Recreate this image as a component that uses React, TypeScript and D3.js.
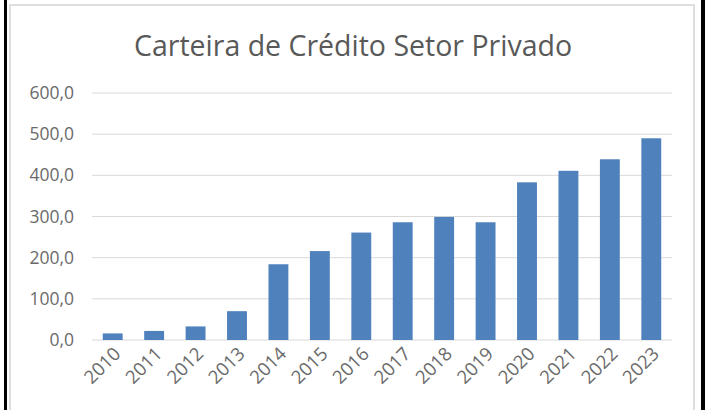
import { useEffect, useRef } from 'react';
import * as d3 from 'd3';

const title = 'Carteira de Crédito Setor Privado';
const years = ['2010', '2011', '2012', '2013', '2014', '2015', '2016', '2017', '2018', '2019', '2020', '2021', '2022', '2023'];
const carteira = [16, 22, 33, 70, 184, 216, 261, 286, 299, 286, 383, 411, 439, 490];
const yTicks = [0, 100, 200, 300, 400, 500, 600];

const App = () => {
  const svgRef = useRef<SVGSVGElement>(null);

  useEffect(() => {
    const width = 705;
    const height = 410;
    const margin = { top: 93, right: 33, bottom: 70, left: 92 };

    const svg = d3.select(svgRef.current)
      .attr('width', width)
      .attr('height', height)
      .style('background-color', '#ffffff');

    svg.selectAll('*').remove();

    // outer black edges and the light chart frame
    svg.append('rect').attr('x', 4).attr('y', 0).attr('width', 3).attr('height', height).attr('fill', '#000');
    svg.append('rect').attr('x', 701).attr('y', 0).attr('width', 4).attr('height', height).attr('fill', '#000');
    svg.append('rect')
      .attr('x', 10).attr('y', 5)
      .attr('width', 684).attr('height', height + 10)
      .attr('fill', 'none')
      .attr('stroke', '#dedede')
      .attr('stroke-width', 2);

    const xScale = d3.scaleBand()
      .domain(years)
      .range([margin.left, width - margin.right])
      .paddingInner(0.52)
      .paddingOuter(0.26);

    const yScale = d3.scaleLinear()
      .domain([0, 600])
      .range([height - margin.bottom, margin.top]);

    const fmt = (v: number) => d3.format('.1f')(v).replace('.', ',');

    // gridlines
    svg.append('g')
      .selectAll('line')
      .data(yTicks)
      .enter()
      .append('line')
      .attr('x1', margin.left)
      .attr('x2', width - margin.right)
      .attr('y1', d => yScale(d))
      .attr('y2', d => yScale(d))
      .attr('stroke', '#d9d9d9')
      .attr('stroke-width', 1);

    // y labels
    svg.append('g')
      .selectAll('text')
      .data(yTicks)
      .enter()
      .append('text')
      .attr('x', margin.left - 18)
      .attr('y', d => yScale(d))
      .attr('dy', '0.35em')
      .attr('text-anchor', 'end')
      .style('font-family', 'Open Sans, sans-serif')
      .style('font-size', '17.5px')
      .attr('fill', '#6a6a6a')
      .text(d => fmt(d));

    // bars
    svg.selectAll('.bar')
      .data(carteira)
      .enter()
      .append('rect')
      .attr('class', 'bar')
      .attr('x', (d, i) => xScale(years[i])!)
      .attr('y', d => yScale(d))
      .attr('width', xScale.bandwidth())
      .attr('height', d => yScale(0) - yScale(d))
      .attr('fill', '#4f81bd');

    // x labels, rotated
    svg.append('g')
      .selectAll('text')
      .data(years)
      .enter()
      .append('text')
      .attr('transform', d => `translate(${xScale(d)! + xScale.bandwidth() / 2 + 9},${yScale(0) + 15})rotate(-45)`)
      .attr('text-anchor', 'end')
      .style('font-family', 'Open Sans, sans-serif')
      .style('font-size', '18.5px')
      .attr('fill', '#6a6a6a')
      .text(d => d);

    // title
    svg.append('text')
      .attr('x', 353)
      .attr('y', 56)
      .attr('text-anchor', 'middle')
      .style('font-family', 'Open Sans, sans-serif')
      .style('font-size', '28.5px')
      .attr('fill', '#595959')
      .text(title);
  }, []);

  return <svg ref={svgRef} style={{ position: 'absolute', left: 0, top: 0 }}></svg>;
};

export default App;
